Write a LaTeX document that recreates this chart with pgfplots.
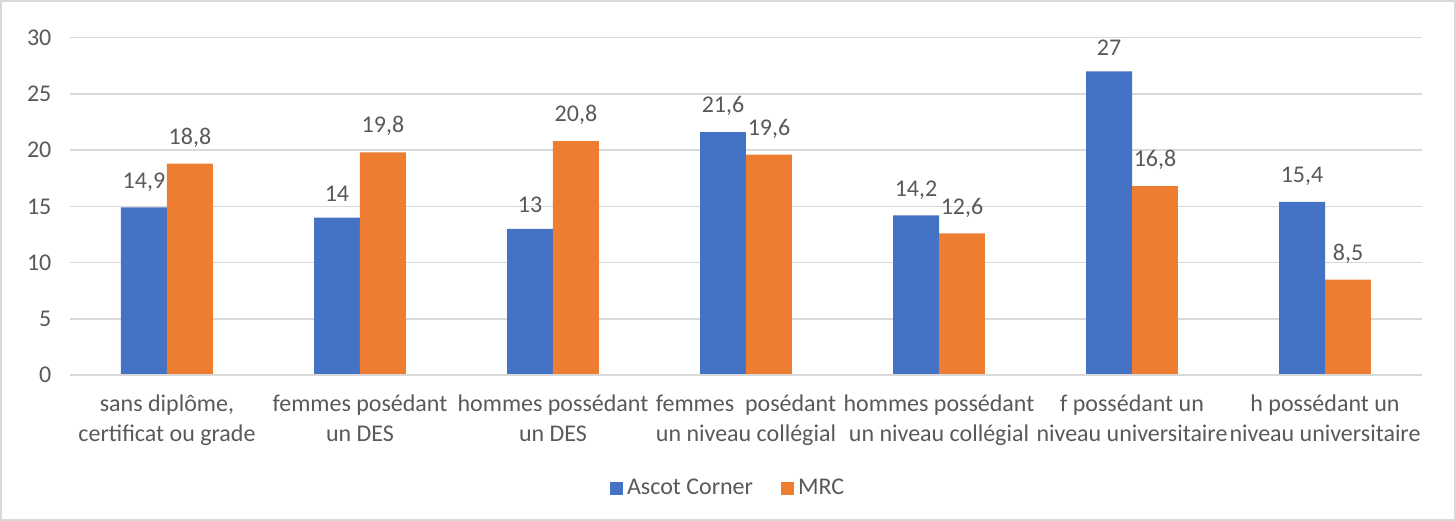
\documentclass[border=0pt]{standalone}
\usepackage{pgfplots}
\pgfplotsset{compat=1.18}
\usepackage{fontspec}
\setmainfont{Carlito}
\definecolor{cblue}{HTML}{4472C4}
\definecolor{corange}{HTML}{ED7D31}
\definecolor{tgray}{HTML}{595959}
\definecolor{ggray}{HTML}{D9D9D9}
\begin{document}
\begin{tikzpicture}
\begin{axis}[
  scale only axis,
  width=676pt, height=169pt,
  xmin=-0.5, xmax=6.5,
  ymin=0, ymax=30,
  ytick={0,5,...,30},
  xtick={0,...,6},
  xticklabels={{sans diplôme,\\certificat ou grade},{femmes posédant\\un DES},{hommes possédant\\un DES},{femmes\ \ posédant\\un niveau collégial},{hommes possédant\\un niveau collégial},{f possédant un\\niveau universitaire},{h possédant un\\niveau universitaire}},
  ybar=0pt, bar width=23pt,
  axis line style={draw=none},
  major tick length=0pt,
  ymajorgrids, grid style={ggray, line width=0.8pt},
  clip=false,
  tick label style={font=\fontsize{12}{15}\selectfont, text=tgray},
  yticklabel style={xshift=-6pt},
  xticklabel style={align=center, yshift=-6.5pt},
  /pgf/number format/.cd, use comma, assume math mode=true, /pgfplots/.cd,
  nodes near coords,
  nodes near coords style={font=\fontsize{12}{14}\selectfont, text=tgray, yshift=4.6pt},
  legend style={at={(0.4875,-0.334)}, anchor=center, draw=none, legend columns=2,
    font=\fontsize{12}{14}\selectfont, text=tgray,
    /tikz/every even column/.append style={column sep=12pt}},
  legend image code/.code={\fill[#1,draw=none] (0pt,-3.25pt) rectangle (6.5pt,3.25pt);},
]
\addplot[fill=cblue, draw=none] coordinates {(0,14.9) (1,14) (2,13) (3,21.6) (4,14.2) (5,27) (6,15.4)};
\addplot[fill=corange, draw=none] coordinates {(0,18.8) (1,19.8) (2,20.8) (3,19.6) (4,12.6) (5,16.8) (6,8.5)};
\legend{Ascot Corner, MRC}
\draw[ggray, line width=0.8pt] (rel axis cs:0,0) -- (rel axis cs:1,0);
\draw[ggray, line width=1pt] (rel axis cs:0,0) ++(-34.75pt,-72.25pt) rectangle ++(727.5pt,259.5pt);
\end{axis}
\end{tikzpicture}
\end{document}
